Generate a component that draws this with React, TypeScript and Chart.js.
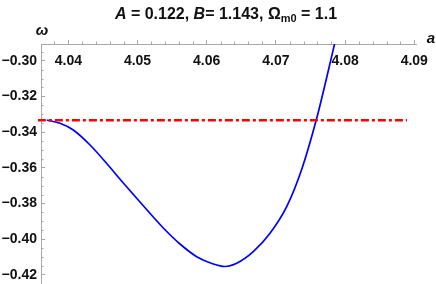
import React, { useEffect, useRef } from 'react';
import { Chart, registerables } from 'chart.js';

Chart.register(...registerables);

// Axis ranges
const X_MIN = 4.03605;
const X_MAX = 4.09035;
const Y_MIN = -0.4251;
const Y_MAX = -0.29064;

// Tick values
const xMajorTicks = [4.04, 4.05, 4.06, 4.07, 4.08, 4.09];
const yMajorTicks = [-0.42, -0.4, -0.38, -0.36, -0.34, -0.32, -0.3];
const xMinorTicks = [
  4.038, 4.042, 4.044, 4.046, 4.048, 4.052, 4.054, 4.056, 4.058, 4.062, 4.064,
  4.066, 4.068, 4.072, 4.074, 4.076, 4.078, 4.082, 4.084, 4.086, 4.088, 4.09,
];
const yMinorTicks = [
  -0.425, -0.415, -0.41, -0.405, -0.395, -0.39, -0.385, -0.375, -0.37, -0.365,
  -0.355, -0.35, -0.345, -0.335, -0.33, -0.325, -0.315, -0.31, -0.305, -0.295,
];

// Blue curve: omega(a)
const omegaA = [
  4.03688, 4.0388, 4.04072, 4.04314, 4.04555, 4.04795, 4.05036, 4.05373, 4.05614,
  4.05855, 4.06095, 4.06264, 4.06434, 4.06673, 4.06915, 4.07156, 4.07377, 4.07587,
  4.07724, 4.07861,
];
const omegaW = [
  -0.33322, -0.33507, -0.33882, -0.34723, -0.35759, -0.36852, -0.37916, -0.39373,
  -0.40269, -0.4098, -0.41389, -0.41529, -0.4135, -0.407, -0.39669, -0.38179,
  -0.36039, -0.33266, -0.31109, -0.2884,
];

// Red dash-dot reference line omega = -1/3
const refA = [4.0356, 4.08895];
const refW = [-0.33333, -0.33333];

const FONT = "'Liberation Sans', Arial, Helvetica, sans-serif";
const AXIS_COLOR = '#a8a8a8';

const decoPlugin = {
  id: 'deco',
  afterDraw(chart: any) {
    const { ctx, chartArea, scales } = chart;
    const x = scales.x;
    const y = scales.y;
    ctx.save();
    // minor ticks
    ctx.strokeStyle = AXIS_COLOR;
    ctx.lineWidth = 1;
    ctx.beginPath();
    xMinorTicks.forEach((v) => {
      const px = Math.round(x.getPixelForValue(v)) + 0.5;
      ctx.moveTo(px, chartArea.top);
      ctx.lineTo(px, chartArea.top - 2.5);
    });
    yMinorTicks.forEach((v) => {
      const py = Math.round(y.getPixelForValue(v)) + 0.5;
      ctx.moveTo(chartArea.left, py);
      ctx.lineTo(chartArea.left + 2.5, py);
    });
    ctx.stroke();

    // axis labels
    ctx.fillStyle = '#111';
    ctx.textBaseline = 'alphabetic';
    ctx.font = `italic bold 15px ${FONT}`;
    ctx.textAlign = 'center';
    ctx.fillText('\u03c9', chartArea.left + 1, chartArea.top - 9);
    ctx.textAlign = 'left';
    ctx.fillText('a', chartArea.right + 10, chartArea.top - 1);

    // title with mixed styles
    const pieces: [string, string, number][] = [
      ['A', `italic bold 16px ${FONT}`, 0],
      [' = 0.122, ', `bold 16px ${FONT}`, 0],
      ['B', `italic bold 16px ${FONT}`, 0],
      ['= 1.143, ', `bold 16px ${FONT}`, 0],
      ['\u03a9', `bold 16px ${FONT}`, 0],
      ['m0', `bold 11px ${FONT}`, 3],
      [' = 1.1', `bold 16px ${FONT}`, 0],
    ];
    let total = 0;
    const widths = pieces.map(([t, f]) => {
      ctx.font = f;
      const w = ctx.measureText(t).width;
      total += w;
      return w;
    });
    let cx = 226 - total / 2;
    ctx.textAlign = 'left';
    pieces.forEach(([t, f, dy], i) => {
      ctx.font = f;
      ctx.fillText(t, cx, 19 + dy);
      cx += widths[i];
    });
    ctx.restore();
  },
};

export default function App() {
  const ref = useRef<HTMLCanvasElement | null>(null);

  useEffect(() => {
    document.body.style.margin = '0';
    const canvas = ref.current;
    if (!canvas) return;
    const chart = new Chart(canvas, {
      type: 'line',
      data: {
        datasets: [
          {
            label: '\u03c9 = \u22121/3',
            data: refA.map((a, i) => ({ x: a, y: refW[i] })),
            borderColor: '#ff0000',
            borderWidth: 2.5,
            borderDash: [8, 3, 3, 3],
            pointRadius: 0,
            fill: false,
            clip: false,
          } as any,
          {
            label: '\u03c9(a)',
            data: omegaA.map((a, i) => ({ x: a, y: omegaW[i] })),
            borderColor: '#0000ff',
            borderWidth: 1.7,
            pointRadius: 0,
            fill: false,
            cubicInterpolationMode: 'monotone',
          } as any,
        ],
      },
      options: {
        animation: false,
        responsive: false,
        maintainAspectRatio: false,
        layout: { padding: { top: 40, left: 0, right: 19.3, bottom: 0 } },
        plugins: {
          legend: { display: false },
          title: { display: false },
          tooltip: { enabled: false },
        },
        scales: {
          x: {
            type: 'linear',
            position: 'top',
            min: X_MIN,
            max: X_MAX,
            afterBuildTicks: (s: any) => {
              s.ticks = xMajorTicks.map((v) => ({ value: v }));
            },
            afterFit: (s: any) => {
              s.height = 4;
              s.paddingLeft = 0;
              s.paddingRight = 0;
            },
            grid: {
              drawOnChartArea: false,
              drawTicks: true,
              tickLength: 4,
              color: AXIS_COLOR,
              lineWidth: 1,
            },
            border: { display: true, color: AXIS_COLOR, width: 1 },
            ticks: {
              mirror: true,
              padding: 8.6,
              color: '#111',
              font: { family: FONT, size: 14, weight: 'bold' },
              maxRotation: 0,
              autoSkip: false,
              callback: (v: any) => Number(v).toFixed(2),
            },
          },
          y: {
            type: 'linear',
            position: 'left',
            min: Y_MIN,
            max: Y_MAX,
            afterBuildTicks: (s: any) => {
              s.ticks = yMajorTicks.map((v) => ({ value: v }));
            },
            afterFit: (s: any) => {
              s.width = 41;
              s.paddingTop = 0;
              s.paddingBottom = 0;
            },
            grid: {
              drawOnChartArea: false,
              drawTicks: true,
              tickLength: -4,
              color: AXIS_COLOR,
              lineWidth: 1,
            },
            border: { display: true, color: AXIS_COLOR, width: 1 },
            ticks: {
              padding: 8,
              color: '#111',
              font: { family: FONT, size: 14, weight: 'bold' },
              autoSkip: false,
              callback: (v: any) => {
                const n = Number(v);
                return (n < 0 ? '\u2212' : '') + Math.abs(n).toFixed(2);
              },
            },
          },
        },
      } as any,
      plugins: [decoPlugin],
    });
    return () => chart.destroy();
  }, []);

  return (
    <div style={{ position: 'absolute', left: 0, top: 0, width: 436, height: 284 }}>
      <canvas ref={ref} width={436} height={284} />
    </div>
  );
}
